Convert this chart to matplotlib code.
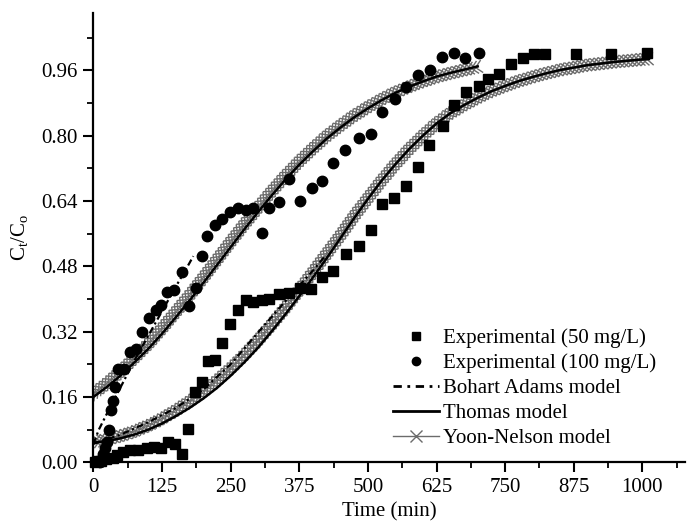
import matplotlib
matplotlib.use("Agg")
import matplotlib.pyplot as plt
import matplotlib.patheffects as pe
from matplotlib.lines import Line2D
from matplotlib.ticker import MultipleLocator, FormatStrFormatter

plt.rcParams['font.family'] = ['Liberation Serif', 'DejaVu Serif']
plt.rcParams['mathtext.fontset'] = 'custom'
plt.rcParams['mathtext.rm'] = 'Liberation Serif'
plt.rcParams['mathtext.it'] = 'Liberation Serif:italic'

# ---------------- data ----------------
exp50_t = [3, 8, 14, 23.7, 35.9, 42.6, 54.7, 66.9, 80.9, 97.3, 111.2, 122.8, 136.7, 148.9,
           162.2, 173.1, 185.3, 197.5, 209.6, 221.8, 234.0, 249.1, 264.2, 277.7, 290.4,
           306.8, 320.7, 339.0, 357.1, 376.6, 396.1, 416.2, 437.3, 460.5, 484.1, 505.5,
           526.6, 547.9, 569.8, 590.4, 612.2, 636.0, 656.0, 678.6, 701.5, 718.0, 739.3,
           760.6, 781.7, 801.7, 821.8, 879.6, 942.8, 1008.0]
exp50_c = [0.0, 0.002, 0.004, 0.007, 0.010, 0.018, 0.024, 0.030, 0.030, 0.034, 0.038, 0.034,
           0.049, 0.044, 0.020, 0.082, 0.173, 0.196, 0.249, 0.251, 0.292, 0.339, 0.374,
           0.397, 0.392, 0.397, 0.400, 0.413, 0.415, 0.427, 0.425, 0.454, 0.468, 0.511,
           0.529, 0.568, 0.633, 0.648, 0.678, 0.723, 0.777, 0.824, 0.875, 0.907, 0.923,
           0.940, 0.952, 0.975, 0.991, 1.001, 1.001, 1.001, 1.001, 1.002]

exp100_t = [12, 15, 18, 21, 24, 28, 31.7, 36, 39.5, 45.6, 55.9, 66.9, 77.8, 89.3, 102,
            113.7, 123.4, 134.8, 147.6, 162.2, 174.4, 187.1, 197.5, 207.7, 221.8, 235.1,
            249.1, 264.2, 278.3, 291.5, 306.8, 320.7, 338.4, 356.6, 376.6, 398.0, 416.2,
            437.3, 458.6, 484.1, 505.5, 526.6, 549.7, 569.8, 590.4, 613.5, 634.8, 656.0,
            677.3, 701.5]
exp100_c = [0.0, 0.008, 0.02, 0.035, 0.05, 0.079, 0.128, 0.149, 0.184, 0.229, 0.229, 0.270,
            0.278, 0.320, 0.353, 0.372, 0.386, 0.416, 0.423, 0.465, 0.382, 0.427, 0.505,
            0.555, 0.582, 0.597, 0.613, 0.623, 0.619, 0.623, 0.562, 0.623, 0.638, 0.694,
            0.640, 0.671, 0.690, 0.734, 0.765, 0.795, 0.805, 0.857, 0.889, 0.919, 0.950,
            0.960, 0.993, 1.002, 0.991, 1.002]

# Model curves
thomas100_t = [0, 25, 50, 75, 100, 125, 150, 175, 200, 225, 250, 275, 300, 325, 350, 375,
               400, 425, 450, 475, 500, 525, 550, 575, 600, 625, 650, 675, 700]
thomas100_c = [0.160, 0.185, 0.213, 0.245, 0.278, 0.315, 0.355, 0.396, 0.439, 0.483, 0.527,
               0.571, 0.613, 0.654, 0.693, 0.729, 0.762, 0.793, 0.820, 0.845, 0.867, 0.887,
               0.905, 0.920, 0.933, 0.945, 0.954, 0.962, 0.970]
yn100_c = [0.168, 0.194, 0.223, 0.256, 0.290, 0.328, 0.368, 0.409, 0.452, 0.496, 0.540,
           0.583, 0.624, 0.664, 0.702, 0.737, 0.769, 0.799, 0.825, 0.849, 0.870, 0.889,
           0.906, 0.920, 0.933, 0.944, 0.953, 0.961, 0.968]
ba100_t = [0, 10, 25, 50, 75, 100, 125, 150, 175, 182]
ba100_c = [0.045, 0.080, 0.120, 0.185, 0.250, 0.310, 0.370, 0.430, 0.488, 0.505]

thomas50_t = [0, 25, 50, 75, 100, 125, 150, 175, 200, 225, 250, 275, 300, 325, 350, 375,
              400, 425, 450, 475, 500, 525, 550, 575, 600, 625, 650, 675, 700, 725, 750,
              775, 800, 825, 850, 875, 900, 925, 950, 975, 1000, 1012]
thomas50_c = [0.048, 0.052, 0.059, 0.068, 0.080, 0.095, 0.113, 0.133, 0.156, 0.182, 0.212,
              0.245, 0.281, 0.321, 0.363, 0.407, 0.453, 0.500, 0.549, 0.598, 0.645, 0.690,
              0.730, 0.767, 0.800, 0.830, 0.855, 0.875, 0.893, 0.909, 0.922, 0.934, 0.944,
              0.953, 0.961, 0.967, 0.973, 0.977, 0.981, 0.984, 0.987, 0.988]
yn50_c = [0.050, 0.056, 0.065, 0.076, 0.090, 0.107, 0.127, 0.149, 0.173, 0.200, 0.230,
          0.263, 0.299, 0.338, 0.379, 0.422, 0.466, 0.511, 0.556, 0.603, 0.647, 0.690,
          0.730, 0.767, 0.800, 0.830, 0.855, 0.875, 0.893, 0.909, 0.922, 0.934, 0.944,
          0.953, 0.961, 0.967, 0.973, 0.977, 0.981, 0.984, 0.987, 0.988]
ba50_t = [0, 50, 100, 150, 200, 250, 300, 350, 400, 422]
ba50_c = [0.045, 0.068, 0.098, 0.133, 0.178, 0.240, 0.318, 0.395, 0.470, 0.505]

x_ticks = [0, 125, 250, 375, 500, 625, 750, 875, 1000]
y_ticks = [0.00, 0.16, 0.32, 0.48, 0.64, 0.80, 0.96]

# ---------------- plot ----------------
fig = plt.figure(figsize=(6.89, 5.22), dpi=100)
ax = fig.add_axes([0.1355, 0.1144, 0.859, 0.8601])

FS = 15
GRAY = '0.42'
cross = [pe.TickedStroke(angle=a, spacing=3.0, length=2.0, linewidth=1.0, foreground=GRAY)
         for a in (45, -135, 135, -45)]

for t, c in ((thomas100_t, yn100_c), (thomas50_t, yn50_c)):
    ax.plot(t, c, color=GRAY, lw=0.8, path_effects=cross + [pe.Normal()], zorder=2)

for t, c in ((thomas100_t, thomas100_c), (thomas50_t, thomas50_c)):
    ax.plot(t, c, color='black', lw=1.8, zorder=3)

for t, c in ((ba100_t, ba100_c), (ba50_t, ba50_c)):
    ax.plot(t, c, color='black', lw=1.6, ls=(0, (3, 1.5, 1, 1.5)), zorder=3)

ax.plot(exp50_t, exp50_c, ls='none', marker='s', ms=7, color='black', clip_on=False, zorder=4)
ax.plot(exp100_t, exp100_c, ls='none', marker='o', ms=7.5, color='black', clip_on=False, zorder=4)

ax.set_xlim(0, 1078)
ax.set_ylim(0, 1.10)
ax.set_xticks(x_ticks)
ax.set_yticks(y_ticks)
ax.xaxis.set_minor_locator(MultipleLocator(62.5))
ax.yaxis.set_minor_locator(MultipleLocator(0.08))
ax.yaxis.set_major_formatter(FormatStrFormatter('%.2f'))
ax.tick_params(which='major', direction='out', length=7, width=1.5, labelsize=FS, pad=4)
ax.tick_params(which='minor', direction='out', length=4, width=1.3)
for s in ('top', 'right'):
    ax.spines[s].set_visible(False)
for s in ('left', 'bottom'):
    ax.spines[s].set_linewidth(1.6)

ax.set_xlabel('Time (min)', fontsize=FS, labelpad=4)
ax.set_ylabel(r'$\mathrm{C_t/C_o}$', fontsize=FS, labelpad=8)

handles = [
    Line2D([], [], ls='none', marker='s', ms=6, color='black'),
    Line2D([], [], ls='none', marker='o', ms=6, color='black'),
    Line2D([], [], color='black', lw=2, ls=(0, (3, 2, 1, 2))),
    Line2D([], [], color='black', lw=2),
    Line2D([], [], color=GRAY, lw=1, marker='x', ms=8, mew=1),
]
labels = ['Experimental (50 mg/L)', 'Experimental (100 mg/L)', 'Bohart Adams model',
          'Thomas model', 'Yoon-Nelson model']
ax.legend(handles, labels, loc='upper left', bbox_to_anchor=(0.493, 0.316), frameon=False,
          fontsize=FS, handlelength=2.2, handletextpad=0.2, labelspacing=0.25,
          borderaxespad=0.0)

fig.savefig('out.png', dpi=100)
